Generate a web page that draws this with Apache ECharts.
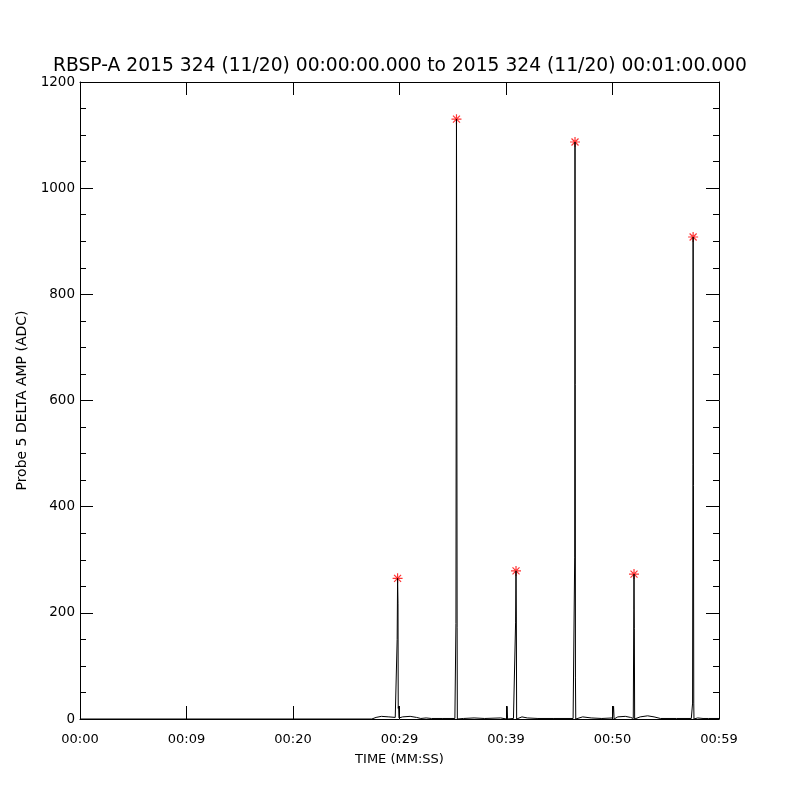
<!DOCTYPE html>
<html>
<head>
<meta charset="utf-8">
<script src="https://cdn.jsdelivr.net/npm/echarts@6/dist/echarts.min.js"></script>
<style>html,body{margin:0;padding:0;background:#fff}#c{width:800px;height:800px}</style>
</head>
<body>
<div id="c"></div>
<script>
const titleText = "RBSP-A 2015 324 (11/20) 00:00:00.000 to 2015 324 (11/20) 00:01:00.000";
const xTickLabels = ["00:00", "00:09", "00:20", "00:29", "00:39", "00:50", "00:59"];
const yAxisName = "Probe 5 DELTA AMP (ADC)";
const xAxisName = "TIME (MM:SS)";

// seconds after 00:00:00
const times = [
  0, 27.4, 27.8, 28.3, 29.0, 29.6,
  29.76, 29.78, 29.82, 29.86, 29.88, 29.92, 29.95,
  30.3, 31.0, 31.6, 32.0, 32.5, 33.0, 34.0, 35.2,
  35.28, 35.3, 35.35, 35.38, 35.41, 35.43,
  36.0, 37.0, 38.0, 39.5, 40.05, 40.1, 40.15, 40.7,
  40.88, 40.9, 40.94, 40.97, 41.0,
  41.5, 42.0, 43.0, 44.5, 46.3,
  46.42, 46.45, 46.48, 46.5, 46.52, 46.55,
  47.2, 48.0, 49.0, 50.0, 50.05, 50.1, 50.15,
  50.5, 51.2, 51.7, 51.95,
  51.98, 52.0, 52.02, 52.05, 52.08,
  52.6, 53.3, 53.9, 54.5, 56.0, 57.4,
  57.5, 57.52, 57.55, 57.57, 57.6, 57.63, 57.65,
  58.0, 58.5, 59.0, 60.0
];
const amps = [
  0, 0, 3, 5, 4, 3,
  0, 150, 265, 217, 20, 24, 2,
  4, 5, 3, 1, 2, 1, 1, 1,
  0, 180, 1130, 740, 173, 0,
  1, 2, 1, 2, 0, 24, 0, 1,
  0, 181, 279, 194, 0,
  4, 2, 1, 1, 1,
  0, 305, 1087, 630, 79, 0,
  4, 2, 1, 2, 0, 24, 0,
  4, 5, 3, 1,
  0, 207, 273, 170, 0,
  4, 6, 4, 1, 1, 1,
  0, 30, 480, 908, 440, 30, 0,
  2, 1, 1, 1
];
const peakTimes = [29.82, 35.35, 40.94, 46.48, 52.02, 57.57];
const peakAmps = [265, 1130, 279, 1087, 273, 908];

const lineData = times.map((t, i) => [t, amps[i]]);
const peakData = peakTimes.map((t, i) => [t, peakAmps[i]]);

const font = "DejaVu Sans";
const axLine = {show: true, onZero: false, lineStyle: {color: '#000', width: 1}};
const majTick = {show: true, inside: true, length: 13, lineStyle: {color: '#000', width: 1}};
const minTickAxis = (pos) => ({
  type: 'value', min: 0, max: 1200, interval: 50, position: pos,
  axisLine: {show: false, onZero: false},
  axisTick: {show: true, inside: true, length: 6, lineStyle: {color: '#000', width: 1}},
  axisLabel: {show: false}, splitLine: {show: false}
});
const chart = echarts.init(document.getElementById('c'), null, {renderer: 'canvas'});
chart.setOption({
  animation: false,
  backgroundColor: '#fff',
  title: {
    text: titleText, left: 'center', top: 52,
    textStyle: {fontFamily: font, fontSize: 18.7, fontWeight: 'normal', color: '#000'}
  },
  grid: {left: 80, right: 81, top: 82, bottom: 81},
  xAxis: [{
    type: 'value', min: 0, max: 60, interval: 10, position: 'bottom',
    name: xAxisName, nameLocation: 'middle', nameGap: 34,
    nameTextStyle: {fontFamily: font, fontSize: 13, color: '#000'},
    axisLine: axLine, axisTick: majTick,
    axisLabel: {fontFamily: font, fontSize: 13, color: '#000', margin: 14,
      formatter: v => xTickLabels[Math.round(v / 10)]},
    splitLine: {show: false}
  }, {
    type: 'value', min: 0, max: 60, interval: 10, position: 'top',
    axisLine: axLine, axisTick: majTick,
    axisLabel: {show: false}, splitLine: {show: false}
  }],
  yAxis: [{
    type: 'value', min: 0, max: 1200, interval: 200, position: 'left',
    name: yAxisName, nameLocation: 'middle', nameGap: 46, nameRotate: 90,
    nameTextStyle: {fontFamily: font, fontSize: 14, color: '#000'},
    axisLine: axLine, axisTick: majTick,
    axisLabel: {fontFamily: font, fontSize: 13.5, color: '#000', margin: 5,
      formatter: v => String(v)},
    splitLine: {show: false}
  }, {
    type: 'value', min: 0, max: 1200, interval: 200, position: 'right',
    axisLine: axLine, axisTick: majTick,
    axisLabel: {show: false}, splitLine: {show: false}
  }, minTickAxis('left'), minTickAxis('right')],
  series: [{
    type: 'line', data: lineData, xAxisIndex: 0, yAxisIndex: 0,
    showSymbol: false, symbol: 'none',
    lineStyle: {color: '#000', width: 1}
  }, {
    type: 'scatter', data: peakData, xAxisIndex: 0, yAxisIndex: 0,
    symbol: 'path://M0,-5L0,5M-5,0L5,0M-3.5,-3.5L3.5,3.5M-3.5,3.5L3.5,-3.5',
    symbolSize: 10,
    itemStyle: {color: '#ff0000', borderColor: '#ff0000', borderWidth: 1.2}
  }]
});
</script>
</body>
</html>
